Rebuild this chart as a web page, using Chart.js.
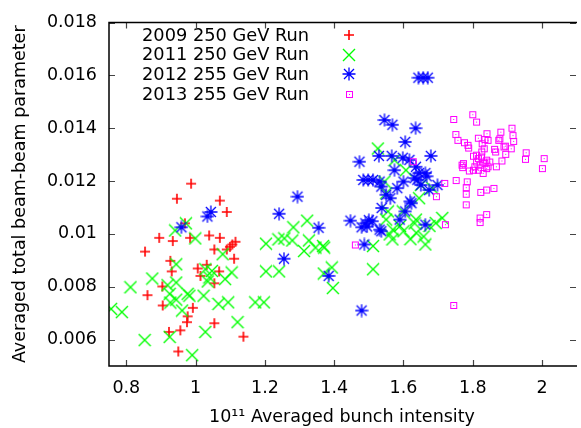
<!DOCTYPE html>
<html>
<head>
<meta charset="utf-8">
<title>Beam-beam parameter vs bunch intensity</title>
<script src="https://cdn.jsdelivr.net/npm/chart.js@4.4.1/dist/chart.umd.min.js"></script>
<style>
    html, body { margin: 0; padding: 0; background: #fff; overflow: hidden; }
    #wrap { width: 581px; height: 428px; }
</style>
</head>
<body>
<div id="wrap"><canvas id="beamChart" width="581" height="428"></canvas></div>
<script>
// series names, in plotting order
const seriesLabels = ['2009 250 GeV Run', '2011 250 GeV Run', '2012 255 GeV Run', '2013 255 GeV Run'];

// [bunch intensity (1e11), averaged total beam-beam parameter]
const run2009 = [
    [0.854, 0.00933], [0.946, 0.01133], [0.987, 0.0119], [1.070, 0.01126], [1.090, 0.01083],
    [0.969, 0.0104], [0.895, 0.00985], [0.934, 0.00973], [0.984, 0.00985], [1.039, 0.00994],
    [1.070, 0.00985], [1.054, 0.00941], [1.090, 0.00941], [1.099, 0.00951], [1.106, 0.0096],
    [1.115, 0.0097], [1.111, 0.00906], [0.927, 0.00898], [0.931, 0.00858], [1.006, 0.00869],
    [1.014, 0.00841], [1.032, 0.00883], [1.068, 0.00858], [1.054, 0.00813], [0.904, 0.00801],
    [0.861, 0.00768], [0.905, 0.00729], [0.992, 0.0072], [0.977, 0.00688], [0.975, 0.00666],
    [1.054, 0.00662], [0.923, 0.00629], [0.956, 0.00635], [0.950, 0.00555], [1.138, 0.00611]
];

const run2011 = [
    [0.756, 0.00716], [0.787, 0.00704], [0.812, 0.00798], [0.875, 0.00831], [0.853, 0.00598],
    [0.919, 0.00806], [0.944, 0.00816], [0.944, 0.00885], [0.941, 0.01013], [0.972, 0.0104],
    [0.999, 0.00983], [0.925, 0.00773], [0.944, 0.00751], [0.927, 0.0074], [0.977, 0.00773],
    [0.982, 0.00766], [0.961, 0.0071], [0.925, 0.0061], [0.990, 0.00541], [1.028, 0.00629],
    [1.121, 0.00666], [1.023, 0.00766], [1.066, 0.00735], [1.094, 0.00741], [1.078, 0.00923],
    [1.104, 0.00854], [1.085, 0.00829], [1.047, 0.0086], [1.028, 0.00866], [1.040, 0.00835],
    [1.035, 0.0082], [1.172, 0.00741], [1.197, 0.00741], [1.322, 0.0105], [1.282, 0.01025],
    [1.203, 0.00963], [1.239, 0.00979], [1.256, 0.00983], [1.279, 0.00975], [1.313, 0.00935],
    [1.327, 0.00975], [1.346, 0.00948], [1.368, 0.00954], [1.371, 0.00948], [1.203, 0.00858],
    [1.241, 0.00858], [1.393, 0.00873], [1.370, 0.0085], [1.396, 0.00795], [1.512, 0.00954],
    [1.512, 0.00866], [1.526, 0.01323], [1.574, 0.01279], [1.607, 0.01241], [1.545, 0.01198],
    [1.650, 0.01185], [1.683, 0.01173], [1.550, 0.01154], [1.645, 0.01135], [1.555, 0.01085],
    [1.550, 0.01054], [1.636, 0.01054], [1.598, 0.01085], [1.712, 0.0106], [1.693, 0.01041],
    [1.569, 0.01016], [1.560, 0.00998], [1.568, 0.00979], [1.600, 0.0101], [1.637, 0.01004],
    [1.663, 0.0096], [1.632, 0.0104], [1.658, 0.0099], [1.675, 0.0103], [1.620, 0.0098],
    [1.590, 0.0103]
];

const run2012 = [
    [0.959, 0.01025], [1.034, 0.01066], [1.044, 0.01083], [1.241, 0.01076], [1.294, 0.01141],
    [1.355, 0.01023], [1.255, 0.00906], [1.384, 0.00841], [1.479, 0.0071], [1.447, 0.0105],
    [1.473, 0.01273], [1.487, 0.0096], [1.484, 0.01204], [1.498, 0.01204], [1.512, 0.01204],
    [1.531, 0.01198], [1.536, 0.01179], [1.529, 0.01295], [1.566, 0.01295], [1.545, 0.01431],
    [1.568, 0.01413], [1.605, 0.01348], [1.635, 0.014], [1.679, 0.01295], [1.643, 0.01591],
    [1.657, 0.01591], [1.670, 0.01591], [1.598, 0.01288], [1.617, 0.0128], [1.574, 0.01241],
    [1.636, 0.01254], [1.645, 0.0123], [1.663, 0.0123], [1.667, 0.01218], [1.632, 0.01211],
    [1.640, 0.01205], [1.600, 0.01198], [1.650, 0.01185], [1.698, 0.01185], [1.674, 0.01166],
    [1.582, 0.01173], [1.550, 0.01148], [1.562, 0.01135], [1.619, 0.01123], [1.623, 0.01116],
    [1.537, 0.01098], [1.605, 0.01085], [1.490, 0.0104], [1.500, 0.01052], [1.510, 0.01048],
    [1.495, 0.01028], [1.531, 0.01016], [1.536, 0.0101], [1.589, 0.01054], [1.663, 0.01035],
    [1.479, 0.01025]
];

const run2013 = [
    [1.461, 0.00958], [1.628, 0.01273], [1.719, 0.01191], [1.695, 0.01141], [1.721, 0.01035],
    [1.745, 0.01433], [1.800, 0.01451], [1.811, 0.01423], [1.751, 0.01376], [1.757, 0.01354],
    [1.776, 0.01345], [1.786, 0.01335], [1.788, 0.01325], [1.816, 0.01362], [1.835, 0.01357],
    [1.841, 0.01379], [1.827, 0.01341], [1.833, 0.01322], [1.826, 0.0131], [1.844, 0.01354],
    [1.863, 0.0132], [1.866, 0.0131], [1.881, 0.01385], [1.878, 0.0136], [1.875, 0.01354],
    [1.890, 0.01329], [1.894, 0.01332], [1.913, 0.014], [1.916, 0.01372], [1.918, 0.0135],
    [1.911, 0.01322], [1.895, 0.01301], [1.884, 0.01276], [1.868, 0.01254], [1.954, 0.01307],
    [1.952, 0.01282], [2.006, 0.01285], [2.001, 0.01247], [1.802, 0.01294], [1.811, 0.01298],
    [1.816, 0.01285], [1.825, 0.01291], [1.811, 0.01272], [1.830, 0.01272], [1.840, 0.01279],
    [1.849, 0.01272], [1.821, 0.0126], [1.835, 0.01266], [1.844, 0.01254], [1.816, 0.01241],
    [1.802, 0.01241], [1.830, 0.01229], [1.840, 0.01247], [1.806, 0.01254], [1.790, 0.01238],
    [1.769, 0.0126], [1.773, 0.01266], [1.771, 0.01251], [1.752, 0.01202], [1.784, 0.01197],
    [1.781, 0.01175], [1.781, 0.0115], [1.781, 0.0111], [1.823, 0.01157], [1.840, 0.01166],
    [1.861, 0.01172], [1.821, 0.0106], [1.840, 0.01073], [1.821, 0.01043], [1.745, 0.00729]
];

const xTicks = [0.8, 1, 1.2, 1.4, 1.6, 1.8, 2];
const yTicks = [0.006, 0.008, 0.01, 0.012, 0.014, 0.016, 0.018];

const FONT = "'DejaVu Sans', sans-serif";

// gnuplot-like point symbols drawn once on small canvases
function makeMarker(size, draw) {
    const c = document.createElement('canvas');
    c.width = size;
    c.height = size;
    draw(c.getContext('2d'), size);
    return c;
}

const plusMark = makeMarker(12, (g, s) => {
    g.strokeStyle = '#ff0000';
    g.lineWidth = 1.6;
    g.beginPath();
    g.moveTo(1, s / 2); g.lineTo(s - 1, s / 2);
    g.moveTo(s / 2, 1); g.lineTo(s / 2, s - 1);
    g.stroke();
});

const crossMark = makeMarker(14, (g, s) => {
    g.strokeStyle = '#00ff00';
    g.lineWidth = 1.4;
    g.beginPath();
    g.moveTo(1, 1); g.lineTo(s - 1, s - 1);
    g.moveTo(s - 1, 1); g.lineTo(1, s - 1);
    g.stroke();
});

const starMark = makeMarker(14, (g, s) => {
    g.strokeStyle = '#0000ff';
    g.lineWidth = 1.3;
    g.beginPath();
    g.moveTo(0.5, s / 2); g.lineTo(s - 0.5, s / 2);
    g.moveTo(s / 2, 0.5); g.lineTo(s / 2, s - 0.5);
    g.moveTo(2, 2); g.lineTo(s - 2, s - 2);
    g.moveTo(s - 2, 2); g.lineTo(2, s - 2);
    g.stroke();
});

const boxMark = makeMarker(9, (g, s) => {
    g.strokeStyle = '#ff00ff';
    g.lineWidth = 1;
    g.strokeRect(1.5, 1.5, 6, 6);
    g.fillStyle = '#ff00ff';
    g.fillRect(4, 4, 1, 1);
});

const markers = [plusMark, crossMark, starMark, boxMark];
const allRuns = [run2009, run2011, run2012, run2013];

const datasets = allRuns.map((run, i) => ({
    label: seriesLabels[i],
    data: run.map(p => ({ x: p[0], y: p[1] })),
    pointStyle: markers[i],
    pointRadius: 5,
    showLine: false,
    order: allRuns.length - i   // later runs drawn on top
}));

// legend sits inside the plot, top left, text then symbol
const insideLegend = {
    id: 'insideLegend',
    afterDatasetsDraw(chart) {
        const ctx = chart.ctx;
        ctx.save();
        ctx.font = '17.8px ' + FONT;
        ctx.fillStyle = '#000';
        ctx.textBaseline = 'middle';
        ctx.textAlign = 'left';
        seriesLabels.forEach((label, i) => {
            const y = 35 + i * 19.7;
            const m = markers[i];
            ctx.fillText(label, 142, y + 1);
            ctx.drawImage(m, Math.round(349 - m.width / 2), Math.round(y - m.height / 2));
        });
        ctx.restore();
    }
};

// border (right edge falls just past the picture) with inward ticks on all sides
const frameTicks = {
    id: 'frameTicks',
    afterDraw(chart) {
        const { ctx, chartArea: a, scales } = chart;
        ctx.save();
        ctx.strokeStyle = '#444';
        ctx.lineWidth = 1.2;
        ctx.beginPath();
        xTicks.forEach(v => {
            const px = Math.round(scales.x.getPixelForValue(v)) + 0.5;
            ctx.moveTo(px, a.bottom); ctx.lineTo(px, a.bottom - 6);
            ctx.moveTo(px, a.top); ctx.lineTo(px, a.top + 6);
        });
        yTicks.forEach(v => {
            const py = Math.round(scales.y.getPixelForValue(v)) + 0.5;
            ctx.moveTo(a.left, py); ctx.lineTo(a.left + 6, py);
            ctx.moveTo(a.right + 1, py); ctx.lineTo(a.right - 5, py);
        });
        ctx.stroke();
        ctx.strokeStyle = '#000';
        ctx.lineWidth = 1.5;
        ctx.beginPath();
        ctx.moveTo(a.right + 2, a.top);
        ctx.lineTo(a.left, a.top);
        ctx.lineTo(a.left, a.bottom);
        ctx.lineTo(a.right + 2, a.bottom);
        ctx.stroke();
        ctx.restore();
    }
};

Chart.defaults.font.family = FONT;
Chart.defaults.color = '#000';

const ctx = document.getElementById('beamChart').getContext('2d');
new Chart(ctx, {
    type: 'scatter',
    data: { datasets: datasets },
    options: {
        responsive: false,
        animation: false,
        events: [],
        layout: { padding: { top: 19, right: 0, left: 0, bottom: 0 } },
        plugins: {
            legend: { display: false },
            tooltip: { enabled: false }
        },
        scales: {
            x: {
                type: 'linear',
                min: 0.75,
                max: 2.095,
                grid: { display: false, drawTicks: false },
                border: { display: false },
                afterBuildTicks: scale => { scale.ticks = xTicks.map(v => ({ value: v })); },
                afterFit: scale => { scale.height = 62; },
                ticks: {
                    autoSkip: false,
                    maxRotation: 0,
                    padding: 12,
                    font: { size: 17.5 },
                    callback: value => String(value)
                },
                title: {
                    display: true,
                    text: '10¹¹ Averaged bunch intensity',
                    font: { size: 17.5 },
                    padding: { top: 0, bottom: 0 }
                }
            },
            y: {
                type: 'linear',
                min: 0.005,
                max: 0.018,
                grid: { display: false, drawTicks: false },
                border: { display: false },
                afterBuildTicks: scale => { scale.ticks = yTicks.map(v => ({ value: v })); },
                afterFit: scale => { scale.width = 109; },
                ticks: {
                    autoSkip: false,
                    padding: 12,
                    font: { size: 17.5 },
                    callback: value => String(value)
                },
                title: {
                    display: true,
                    text: 'Averaged total beam-beam parameter',
                    font: { size: 17.5 },
                    padding: { top: 10, bottom: 0 }
                }
            }
        }
    },
    plugins: [insideLegend, frameTicks]
});
</script>
</body>
</html>
